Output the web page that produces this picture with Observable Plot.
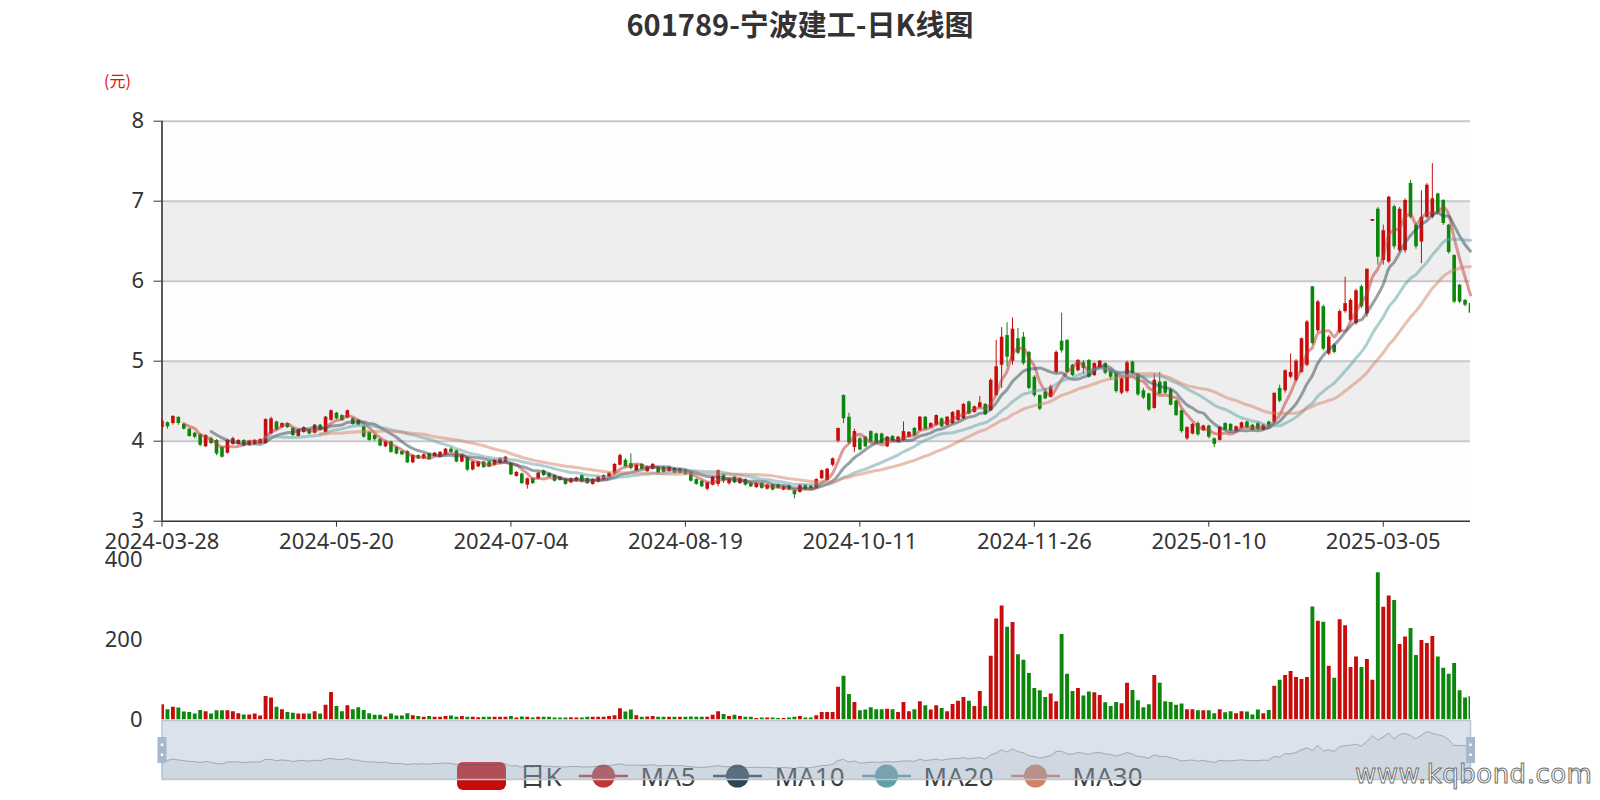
<!DOCTYPE html>
<html><head><meta charset="utf-8">
<script src="https://cdn.jsdelivr.net/npm/d3@7"></script>
<script src="https://cdn.jsdelivr.net/npm/@observablehq/plot@0.6"></script>
<style>
body{margin:0;background:#fff;}
#root{position:relative;width:1600px;height:800px;overflow:hidden;font-family:"Noto Sans","Noto Sans CJK SC",sans-serif;}
.abs{position:absolute;}
#title{top:6px;left:0;width:1600px;text-align:center;font-size:29px;line-height:34px;font-weight:bold;color:#333;font-family:"Noto Sans CJK SC","Noto Sans",sans-serif;}
#unit{left:104px;top:70px;font-size:16px;line-height:20px;color:#e01010;font-family:"Noto Sans CJK SC",sans-serif;}
#legend{top:762px;left:0;width:1600px;height:28px;display:flex;justify-content:center;align-items:center;font-size:26px;color:#3c3c3c;font-family:"Noto Sans","Noto Sans CJK SC",sans-serif;}
#legend .item{display:flex;align-items:center;margin:0 8.5px;}
#legend .item span{margin-left:13px;line-height:28px;}
#wm{left:1355px;top:757px;font-size:26px;line-height:34px;color:#fff;-webkit-text-stroke:1px #707070;font-family:"DejaVu Sans",sans-serif;letter-spacing:0.5px;}
</style></head><body><div id="root"></div>
<script>
const titleText = "601789-宁波建工-日K线图";
const unitText = "(元)";
const tickIdx = [0, 32, 64, 96, 128, 160, 192, 224];
const tickLabels = ["2024-03-28","2024-05-20","2024-07-04","2024-08-19","2024-10-11","2024-11-26","2025-01-10","2025-03-05"];
const priceTicks = [3, 4, 5, 6, 7, 8];
const volTicks = [0, 200, 400];
const bandLows = [3, 4, 5, 6, 7];
const legendNames = ["日K", "MA5", "MA10", "MA20", "MA30"];
const maPeriods = [5, 10, 20, 30];
const maColors = ["#c23531", "#2f4554", "#61a0a8", "#d48265"];
const upColor = "#c80c0c", downColor = "#0b870b";

const open = [
4.17,4.23,4.22,4.30,4.21,4.15,4.10,4.08,3.93,4.03,
4.01,3.92,3.85,3.96,3.96,4.01,3.95,3.96,3.97,3.97,
4.09,4.24,4.17,4.22,4.16,4.06,4.11,4.14,4.10,4.20,
4.11,4.26,4.35,4.32,4.29,4.28,4.26,4.18,4.11,4.07,
4.02,3.93,3.99,3.92,3.87,3.87,3.73,3.82,3.78,3.84,
3.81,3.80,3.83,3.90,3.88,3.74,3.79,3.64,3.68,3.74,
3.74,3.70,3.72,3.74,3.72,3.56,3.59,3.45,3.53,3.53,
3.63,3.59,3.57,3.55,3.52,3.48,3.50,3.57,3.53,3.46,
3.49,3.52,3.55,3.59,3.70,3.76,3.72,3.63,3.71,3.62,
3.65,3.67,3.67,3.62,3.66,3.60,3.64,3.61,3.52,3.50,
3.40,3.45,3.46,3.58,3.47,3.55,3.47,3.52,3.47,3.42,
3.47,3.40,3.45,3.45,3.39,3.44,3.38,3.36,3.45,3.44,
3.42,3.53,3.51,3.70,4.00,4.57,4.30,3.92,4.03,4.05,
4.12,4.09,4.09,3.93,4.06,3.99,4.01,4.05,4.16,4.13,
4.30,4.17,4.20,4.28,4.20,4.22,4.26,4.28,4.49,4.36,
4.42,4.46,4.38,4.57,4.95,5.32,5.00,5.28,5.30,5.11,
4.80,4.57,4.61,4.55,4.86,5.25,5.26,4.95,4.88,4.98,
5.01,4.82,4.91,4.97,4.88,4.85,4.60,4.62,4.99,4.84,
4.63,4.59,4.41,4.74,4.74,4.64,4.50,4.38,4.03,4.09,
4.22,4.13,4.19,4.03,4.01,4.22,4.21,4.13,4.16,4.24,
4.20,4.22,4.14,4.24,4.24,4.66,4.63,4.80,4.76,4.86,
4.95,5.93,5.38,5.68,5.09,5.20,5.36,5.62,5.51,5.47,
5.93,5.59,6.75,6.90,6.26,6.24,6.93,6.38,6.38,7.22,
6.70,6.49,6.80,6.80,7.09,7.01,6.70,6.32,5.95,5.76,5.72];

const close = [
4.25,4.18,4.31,4.22,4.15,4.06,4.05,3.95,4.07,3.97,
3.84,3.80,4.01,4.03,4.01,3.94,4.00,4.01,4.02,4.27,
4.28,4.14,4.22,4.17,4.07,4.14,4.17,4.09,4.20,4.14,
4.30,4.38,4.28,4.26,4.38,4.21,4.20,4.05,4.01,4.02,
3.94,3.99,3.86,3.84,3.83,3.73,3.82,3.78,3.83,3.77,
3.85,3.86,3.90,3.86,3.74,3.82,3.64,3.74,3.74,3.67,
3.68,3.76,3.78,3.80,3.58,3.61,3.47,3.53,3.47,3.60,
3.57,3.55,3.50,3.51,3.46,3.53,3.54,3.49,3.47,3.52,
3.55,3.57,3.60,3.71,3.82,3.68,3.66,3.70,3.65,3.68,
3.71,3.60,3.61,3.67,3.60,3.65,3.58,3.50,3.46,3.43,
3.48,3.55,3.63,3.50,3.52,3.48,3.53,3.45,3.43,3.47,
3.41,3.45,3.39,3.41,3.43,3.39,3.33,3.45,3.40,3.41,
3.52,3.63,3.65,3.78,4.16,4.28,3.98,4.12,3.89,3.93,
3.99,3.98,3.97,4.05,4.00,4.05,4.12,4.11,4.07,4.30,
4.15,4.22,4.32,4.18,4.30,4.36,4.38,4.46,4.34,4.43,
4.48,4.33,4.76,4.93,5.30,5.05,5.40,5.10,4.97,4.66,
4.57,4.40,4.53,4.68,5.11,5.13,4.86,4.82,5.01,4.91,
4.80,4.97,5.00,4.85,4.80,4.62,4.78,4.98,4.85,4.58,
4.54,4.39,4.76,4.59,4.60,4.45,4.32,4.12,4.17,4.21,
4.08,4.19,4.05,3.96,4.17,4.14,4.13,4.18,4.23,4.17,
4.14,4.15,4.20,4.18,4.60,4.50,4.88,4.86,5.00,5.28,
5.49,5.22,5.74,5.15,5.30,5.11,5.62,5.72,5.76,5.88,
5.68,6.15,6.77,6.30,6.63,7.05,6.43,6.90,7.01,6.80,
6.43,6.80,7.20,7.03,6.86,6.72,6.36,5.74,5.74,5.70,5.60];

const high = [
4.28,4.24,4.32,4.30,4.22,4.16,4.11,4.09,4.08,4.05,
4.02,3.93,4.02,4.05,4.02,4.02,4.01,4.02,4.03,4.28,
4.30,4.25,4.23,4.23,4.17,4.15,4.18,4.15,4.21,4.21,
4.31,4.39,4.36,4.33,4.39,4.29,4.27,4.19,4.12,4.08,
4.03,4.00,4.00,3.93,3.88,3.88,3.83,3.83,3.84,3.85,
3.86,3.87,3.91,3.92,3.89,3.83,3.80,3.75,3.75,3.75,
3.75,3.77,3.79,3.81,3.73,3.62,3.60,3.54,3.54,3.61,
3.64,3.60,3.58,3.56,3.53,3.54,3.55,3.58,3.54,3.53,
3.56,3.58,3.61,3.72,3.84,3.78,3.84,3.71,3.72,3.69,
3.72,3.68,3.68,3.68,3.67,3.66,3.65,3.62,3.53,3.51,
3.49,3.56,3.64,3.59,3.53,3.56,3.54,3.53,3.48,3.48,
3.48,3.46,3.46,3.46,3.44,3.45,3.39,3.46,3.46,3.45,
3.53,3.64,3.66,3.79,4.16,4.58,4.35,4.15,4.05,4.06,
4.13,4.10,4.10,4.06,4.07,4.06,4.24,4.12,4.17,4.31,
4.31,4.23,4.33,4.29,4.31,4.37,4.39,4.47,4.50,4.44,
4.56,4.47,4.78,5.26,5.42,5.48,5.54,5.41,5.36,5.12,
4.82,4.58,4.66,4.70,5.13,5.60,5.27,4.96,5.02,5.01,
5.02,4.98,5.01,4.98,4.89,4.86,4.80,5.00,5.00,4.85,
4.66,4.60,4.84,4.86,4.75,4.66,4.51,4.39,4.18,4.22,
4.24,4.20,4.20,4.04,4.18,4.23,4.22,4.19,4.24,4.25,
4.21,4.24,4.21,4.25,4.60,4.70,4.89,5.09,5.02,5.29,
5.51,5.93,5.76,5.70,5.32,5.22,5.64,6.05,5.78,5.90,
5.95,6.15,6.77,6.92,6.70,7.06,6.95,6.92,7.03,7.26,
6.72,7.13,7.22,7.47,7.10,7.02,6.71,6.33,5.96,5.77,5.73];

const low = [
4.15,4.15,4.20,4.20,4.14,4.05,4.03,3.93,3.92,3.96,
3.82,3.79,3.84,3.95,3.95,3.93,3.94,3.95,3.96,3.96,
4.08,4.13,4.16,4.16,4.06,4.05,4.10,4.08,4.09,4.13,
4.10,4.25,4.27,4.25,4.28,4.20,4.19,4.04,4.00,4.00,
3.93,3.92,3.85,3.83,3.82,3.72,3.72,3.77,3.77,3.76,
3.80,3.79,3.82,3.85,3.73,3.73,3.62,3.63,3.67,3.66,
3.67,3.69,3.71,3.73,3.57,3.55,3.46,3.40,3.46,3.52,
3.56,3.54,3.49,3.50,3.45,3.47,3.49,3.48,3.46,3.45,
3.48,3.51,3.54,3.58,3.69,3.67,3.64,3.62,3.64,3.61,
3.64,3.59,3.60,3.61,3.59,3.59,3.57,3.49,3.45,3.42,
3.38,3.44,3.43,3.47,3.45,3.47,3.46,3.44,3.42,3.41,
3.40,3.39,3.38,3.40,3.38,3.38,3.28,3.35,3.39,3.40,
3.41,3.52,3.50,3.68,3.98,4.22,3.96,3.86,3.88,3.92,
3.98,3.97,3.96,3.92,3.99,3.98,4.00,4.04,4.06,4.12,
4.14,4.16,4.19,4.17,4.19,4.21,4.25,4.27,4.33,4.35,
4.41,4.32,4.37,4.56,4.66,4.93,4.95,5.08,4.95,4.64,
4.55,4.38,4.52,4.54,4.85,5.10,4.85,4.81,4.87,4.84,
4.79,4.81,4.90,4.83,4.76,4.60,4.58,4.60,4.83,4.56,
4.52,4.37,4.40,4.58,4.58,4.44,4.31,4.10,4.01,4.08,
4.06,4.12,4.03,3.92,4.00,4.13,4.12,4.12,4.15,4.16,
4.13,4.13,4.13,4.17,4.22,4.48,4.60,4.78,4.74,4.85,
4.93,5.20,5.35,5.13,5.07,5.09,5.34,5.60,5.49,5.45,
5.66,5.55,6.75,6.20,6.20,6.22,6.40,6.36,6.35,6.78,
6.40,6.22,6.78,6.78,6.84,6.70,6.34,5.72,5.72,5.68,5.57];

const volume = [
38,26,32,30,20,19,15,24,21,15,
23,23,23,21,16,13,13,15,10,59,
55,32,26,19,17,15,15,15,21,15,
37,69,34,21,36,26,31,24,16,12,
12,8,15,10,10,16,11,9,7,9,
7,7,9,10,7,9,7,7,6,7,
7,7,7,7,9,5,8,7,5,7,
7,7,5,5,5,6,5,5,7,7,
7,7,9,11,28,20,25,11,7,8,
9,7,7,7,7,7,7,8,7,7,
7,12,21,14,9,12,9,7,7,4,
5,5,5,4,4,5,7,9,5,5,
11,19,19,19,82,109,64,44,23,25,
31,26,26,27,26,19,44,21,26,46,
36,25,36,29,21,39,47,56,47,34,
71,34,159,252,284,231,243,163,149,116,
79,73,56,65,46,213,114,71,79,60,
70,68,61,43,34,44,41,92,74,48,
31,38,111,92,46,44,37,40,26,26,
23,23,23,16,26,18,21,16,21,20,
13,25,16,24,84,99,111,121,106,101,
106,282,246,244,134,104,250,235,131,157,
131,151,99,367,281,309,298,188,207,228,
161,198,191,208,157,129,114,141,73,55,58];

const rows = close.map((c, i) => ({
  i, open: open[i], close: c, high: high[i], low: low[i], vol: volume[i],
  color: c >= open[i] ? upColor : downColor
}));
// moving averages of the closes (first k-1 days have none)
const ma = maPeriods.map(k => close.map((_, i) => i < k - 1 ? NaN : d3.mean(close.slice(i - k + 1, i + 1))));

const root = document.getElementById("root");
const font = '"Noto Sans","Noto Sans CJK SC",sans-serif';
const N = close.length - 1;

function place(el, top) { el.classList.add("abs"); el.style.left = "0px"; el.style.top = top + "px"; root.appendChild(el); }

const t = document.createElement("div"); t.id = "title"; t.className = "abs"; t.textContent = titleText; root.appendChild(t);
const u = document.createElement("div"); u.id = "unit"; u.className = "abs"; u.textContent = unitText; root.appendChild(u);

const price = Plot.plot({
  width: 1600, height: 560,
  marginLeft: 161.5, marginRight: 130, marginTop: 120.7, marginBottom: 39.3,
  style: {background: "transparent", overflow: "visible", fontSize: "22px", fontFamily: font, color: "#333"},
  x: {type: "linear", domain: [0, N], ticks: tickIdx, tickFormat: i => tickLabels[tickIdx.indexOf(i)], tickSize: 6, tickPadding: 6, label: null},
  y: {domain: [3, 8], ticks: priceTicks, tickFormat: d => String(d), tickSize: 8, tickPadding: 10, label: null},
  marks: [
    Plot.rect(bandLows, {y1: d => d, y2: d => d + 1, fill: (d, i) => i % 2 ? "#eeeeee" : "#fdfdfd"}),
    Plot.ruleY(priceTicks.slice(1), {stroke: "#c8c8c8", strokeWidth: 2}),
    Plot.ruleY([3], {stroke: "#333", strokeWidth: 1.6}),
    Plot.ruleX([0], {stroke: "#333", strokeWidth: 1.6}),
    Plot.ruleX(rows, {x: "i", y1: "low", y2: "high", stroke: "color", strokeWidth: 1, clip: true}),
    Plot.ruleX(rows, {x: "i", y1: "open", y2: "close", stroke: "color", strokeWidth: 3.6, clip: true}),
    ...ma.map((m, j) => Plot.line(rows, {x: "i", y: m, stroke: maColors[j], strokeWidth: 3, strokeOpacity: 0.5, curve: "monotone-x"}))
  ]
});
place(price, 0);

const vol = Plot.plot({
  width: 1600, height: 185,
  marginLeft: 161.5, marginRight: 130, marginTop: 19, marginBottom: 5.4,
  style: {background: "transparent", overflow: "visible", fontSize: "22px", fontFamily: font, color: "#333"},
  x: {type: "linear", domain: [0, N], axis: null},
  y: {domain: [0, 400], ticks: volTicks, tickFormat: d => String(d), tickSize: 0, tickPadding: 19.5, label: null},
  marks: [
    Plot.ruleX(rows, {x: "i", y1: 0, y2: "vol", stroke: "color", strokeWidth: 3.9, clip: true})
  ]
});
place(vol, 540);

// legend (drawn under the zoom slider)
const lg = document.createElement("div"); lg.id = "legend"; lg.className = "abs";
legendNames.forEach((name, j) => {
  const it = document.createElement("div"); it.className = "item";
  const ns = "http://www.w3.org/2000/svg";
  const s = document.createElementNS(ns, "svg"); s.setAttribute("width", 49); s.setAttribute("height", 28);
  if (j === 0) {
    const r = document.createElementNS(ns, "rect");
    r.setAttribute("x", 0); r.setAttribute("y", 0); r.setAttribute("width", 49); r.setAttribute("height", 28);
    r.setAttribute("rx", 6); r.setAttribute("fill", upColor); s.appendChild(r);
  } else {
    const c = maColors[j - 1];
    const l = document.createElementNS(ns, "line");
    l.setAttribute("x1", 0); l.setAttribute("x2", 49); l.setAttribute("y1", 14); l.setAttribute("y2", 14);
    l.setAttribute("stroke", c); l.setAttribute("stroke-width", 2.5); s.appendChild(l);
    const ci = document.createElementNS(ns, "circle");
    ci.setAttribute("cx", 24.5); ci.setAttribute("cy", 14); ci.setAttribute("r", 11.5); ci.setAttribute("fill", c); s.appendChild(ci);
  }
  it.appendChild(s);
  const sp = document.createElement("span"); sp.textContent = name; it.appendChild(sp);
  lg.appendChild(it);
});
root.appendChild(lg);

// data-zoom slider showing the whole range
const cmin = d3.min(close), cmax = d3.max(close), pad = (cmax - cmin) * 0.3;
const slider = Plot.plot({
  width: 1600, height: 70,
  marginLeft: 161.5, marginRight: 130, marginTop: 5, marginBottom: 6,
  style: {background: "transparent", overflow: "visible"},
  x: {type: "linear", domain: [0, N], axis: null},
  y: {domain: [cmin - pad, cmax + pad], axis: null},
  marks: [
    Plot.frame({fill: "rgba(167,183,204,0.4)", stroke: "#bcc6d3", strokeWidth: 1.5}),
    Plot.areaY(rows, {x: "i", y: "close", fill: "#2f4554", fillOpacity: 0.07, clip: true}),
    Plot.line(rows, {x: "i", y: "close", stroke: "#2f4554", strokeOpacity: 0.3, strokeWidth: 1}),
    Plot.ruleX([0, N], {stroke: "#a7b7cc", strokeWidth: 9, insetTop: 17, insetBottom: 16}),
    Plot.ruleX([0, N], {stroke: "#ffffff", strokeWidth: 2.5, insetTop: 23.5, insetBottom: 33}),
    Plot.ruleX([0, N], {stroke: "#ffffff", strokeWidth: 2.5, insetTop: 33.5, insetBottom: 23})
  ]
});
place(slider, 715);

const wm = document.createElement("div"); wm.id = "wm"; wm.className = "abs"; wm.textContent = "www.kqbond.com"; root.appendChild(wm);
</script></body></html>
